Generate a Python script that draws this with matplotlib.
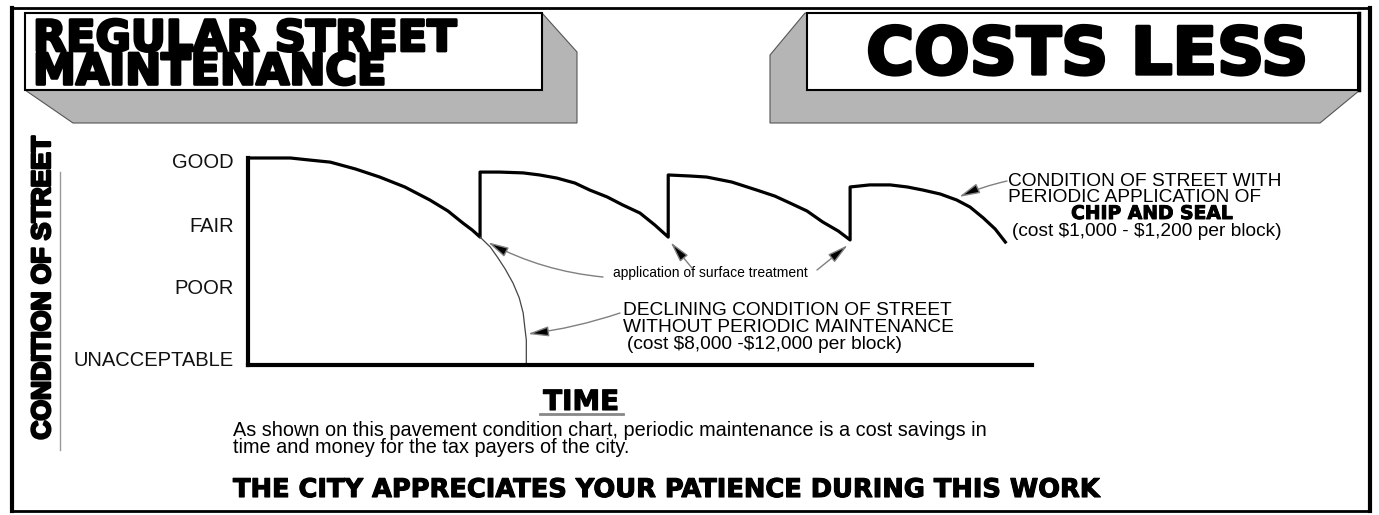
import numpy as np
import matplotlib.pyplot as plt
from matplotlib import font_manager
from matplotlib.patches import Polygon, Rectangle
import matplotlib.patheffects as pe

# condition scale: 0 = bottom of chart, 100 = top
levels = ['GOOD', 'FAIR', 'POOR', 'UNACCEPTABLE']
level_vals = [99, 68, 38, 3]

# street condition with periodic chip and seal, one list per treatment cycle
cycle_t = [
    [0, 2.2, 5.4, 7.9, 10.5, 13.7, 16.8, 20.0, 23.2, 25.5, 27.4, 28.6, 29.6],
    [29.6, 32.1, 35.1, 37.2, 39.4, 41.7, 43.6, 45.8, 47.8, 50.0, 51.9, 53.6],
    [53.6, 56.4, 58.5, 61.7, 64.9, 67.2, 69.1, 71.3, 73.3, 75.3, 76.8],
    [76.8, 79.3, 81.9, 84.1, 86.1, 88.3, 90.4, 92.1, 93.8, 95.3, 96.6],
]
cycle_c = [
    [100, 100, 100, 99, 98, 94.7, 90.8, 86, 79.7, 74.4, 68.6, 65.2, 61.8],
    [93.2, 93.2, 92.8, 91.8, 90.3, 87.9, 84.5, 81.2, 77.3, 73.4, 67.6, 61.8],
    [91.8, 91.3, 90.8, 88.4, 84.5, 81.6, 78.3, 74.4, 69.1, 64.7, 60.4],
    [86, 87, 87, 86, 84.5, 82.6, 79.7, 76.3, 71, 65.7, 59.4],
]

# declining condition without maintenance (carries on from the first cycle)
decline_t = [29.6, 30.9, 31.8, 32.8, 33.8, 34.6, 35.1, 35.3, 35.5, 35.5, 35.5]
decline_c = [61.8, 57.0, 52.2, 46.4, 39.6, 32.4, 25.1, 18.4, 12.1, 6.3, 0]

W, H = 1379, 515
names = {f.name for f in font_manager.fontManager.ttflist}
narrow = 'Liberation Sans Narrow' if 'Liberation Sans Narrow' in names else 'Liberation Sans'
plt.rcParams['font.family'] = ['Liberation Sans', 'DejaVu Sans']

fig = plt.figure(figsize=(W / 100, H / 100), dpi=100)
fig.patch.set_facecolor('white')

# overlay in pixel units for the poster decorations
ov = fig.add_axes([0, 0, 1, 1])
ov.set_xlim(0, W)
ov.set_ylim(H, 0)
ov.axis('off')

# chart axes
ax = fig.add_axes([248 / W, 1 - 365 / H, 784 / W, 207 / H])
ax.set_zorder(2)
ax.patch.set_visible(False)
ax.set_xlim(0, 100)
ax.set_ylim(0, 100)
for s in ['top', 'right']:
    ax.spines[s].set_visible(False)
for s in ['left', 'bottom']:
    ax.spines[s].set_linewidth(3)
    ax.spines[s].set_capstyle('projecting')
ax.set_xticks([])
ax.set_yticks(level_vals)
ax.set_yticklabels(levels, fontsize=14.5, color='#111')
ax.tick_params(axis='y', length=0, pad=10)

t_all = np.concatenate([np.array(t) for t in cycle_t])
c_all = np.concatenate([np.array(c) for c in cycle_c])
ax.plot(t_all, c_all, color='black', lw=2.3, solid_joinstyle='round', clip_on=False)
ax.plot(decline_t, decline_c, color='#444', lw=0.9, solid_joinstyle='round', clip_on=False)

# outer border
ov.add_patch(Rectangle((12, 8), 1358, 503, fill=False, ec='black', lw=2))
ov.plot([12, 12], [8, 511], color='black', lw=3)
ov.plot([1370, 1370], [8, 511], color='black', lw=3)

# title boxes
ov.add_patch(Polygon([(25, 90), (73, 123), (577, 123), (577, 52), (542, 13)],
                     closed=True, fc='#b5b5b5', ec='#555', lw=0.8))
ov.add_patch(Rectangle((25, 13), 517, 77, fc='white', ec='black', lw=1.5))
ov.add_patch(Polygon([(805, 13), (770, 55), (770, 123), (1320, 123), (1360, 90)],
                     closed=True, fc='#b5b5b5', ec='#555', lw=0.8))
ov.add_patch(Rectangle((807, 13), 551, 77, fc='white', ec='black', lw=1.5))
ov.plot([1359, 1359], [13, 90], color='black', lw=2.5)

ov.text(33, 18, 'REGULAR STREET\nMAINTENANCE', fontsize=31, family='DejaVu Sans', weight='bold',
        ha='left', va='top', linespacing=0.74,
        path_effects=[pe.withStroke(linewidth=2.0, foreground='black')])
ov.text(1087, 74, 'COSTS LESS', fontsize=47, family='DejaVu Sans', weight='bold',
        ha='center', va='baseline', path_effects=[pe.withStroke(linewidth=2.4, foreground='black')])

# y label with its thin rule
ov.text(43, 288, 'CONDITION OF STREET', rotation=90, fontsize=23 if narrow != 'Liberation Sans' else 19,
        family=narrow, weight='bold', ha='center', va='center',
        path_effects=[pe.withStroke(linewidth=1.8, foreground='black')])
ov.plot([60, 60], [172, 450], color='#999', lw=1)

# TIME label
ov.text(581, 410, 'TIME', fontsize=20, family='DejaVu Sans', weight='bold',
        ha='center', va='baseline', path_effects=[pe.withStroke(linewidth=0.8, foreground='black')])
ov.plot([540, 623], [414, 414], color='#888', lw=2)

ov.text(233, 436, 'As shown on this pavement condition chart, periodic maintenance is a cost savings in',
        fontsize=14.3, ha='left', va='baseline')
ov.text(233, 453, 'time and money for the tax payers of the city.', fontsize=14.3, ha='left', va='baseline')
ov.text(233, 497, 'THE CITY APPRECIATES YOUR PATIENCE DURING THIS WORK', fontsize=18.5,
        family='DejaVu Sans', weight='bold', ha='left', va='baseline',
        path_effects=[pe.withStroke(linewidth=0.8, foreground='black')])

# annotation texts
ov.text(1008, 185.5, 'CONDITION OF STREET WITH', fontsize=13.8, ha='left', va='baseline')
ov.text(1008, 201.5, 'PERIODIC APPLICATION OF', fontsize=13.8, ha='left', va='baseline')
ov.text(1152, 219, 'CHIP AND SEAL', fontsize=13.5, family='DejaVu Sans', weight='bold',
        ha='center', va='baseline', path_effects=[pe.withStroke(linewidth=0.7, foreground='black')])
ov.text(1012, 236, '(cost \\$1,000 - \\$1,200 per block)', fontsize=13.8, ha='left', va='baseline')

ov.text(623, 315, 'DECLINING CONDITION OF STREET', fontsize=13.8, ha='left', va='baseline')
ov.text(623, 332, 'WITHOUT PERIODIC MAINTENANCE', fontsize=13.8, ha='left', va='baseline')
ov.text(627, 349, '(cost \\$8,000 -\\$12,000 per block)', fontsize=13.8, ha='left', va='baseline')

ov.text(710, 273, 'application of surface treatment', fontsize=10, ha='center', va='center')

def arrow(xy, xytext, rad=0.0):
    ov.annotate('', xy=xy, xycoords=ax.transData, xytext=xytext, textcoords='data',
                arrowprops=dict(arrowstyle='-|>,head_length=0.9,head_width=0.22', lw=1,
                                ec='#808080', fc='black', shrinkA=0, shrinkB=0,
                                mutation_scale=14, connectionstyle='arc3,rad=%s' % rad))

# surface treatment arrows point at the ends of the first three cycles
starts = [(603, 277), (692, 268), (817, 270)]
offs = [1.0, 0.3, -0.3]
for i in range(3):
    arrow((cycle_t[i][-1] + offs[i], cycle_c[i][-1] - 2.5), starts[i], rad=-0.1 if i == 0 else 0.0)

arrow((decline_t[7] + 0.4, 15), (620, 313), rad=-0.05)
arrow((cycle_t[3][6] + 0.3, cycle_c[3][6] + 1.5), (1007, 181), rad=0.05)

fig.savefig('out.png', dpi=100)
